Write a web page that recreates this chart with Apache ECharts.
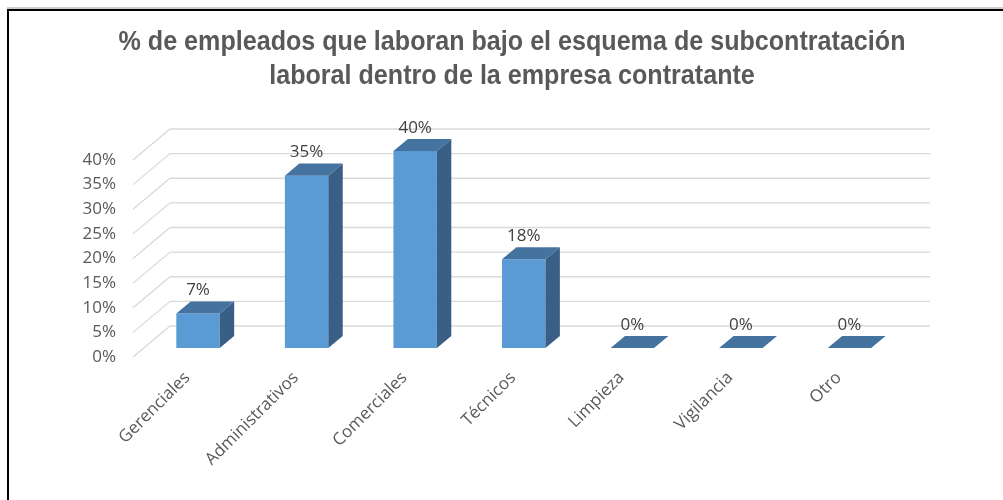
<!DOCTYPE html>
<html>
<head>
<meta charset="utf-8">
<script src="https://cdn.jsdelivr.net/npm/echarts@6/dist/echarts.min.js"></script>
<style>
  html, body { margin: 0; padding: 0; background: #fff; }
  #chart { width: 1003px; height: 500px; }
</style>
</head>
<body>
<div id="chart"></div>
<script>
// Categories and percentages
const categories = ['Gerenciales', 'Administrativos', 'Comerciales', 'Técnicos', 'Limpieza', 'Vigilancia', 'Otro'];
const percentages = [7, 35, 40, 18, 0, 0, 0];
const yTicks = [0, 5, 10, 15, 20, 25, 30, 35, 40];

const titleLines = [
  '% de empleados que laboran bajo el esquema de subcontratación',
  'laboral dentro de la empresa contratante'
];

// 3D look: floor depth vector and where the columns sit inside that depth
const DEPTH = [37, -31];
const COL_FRONT = 0.29;
const COL_BACK = 0.68;
const COL_WIDTH = 0.40;   // share of the category band
const FACE_FRONT = '#5B9BD5';
const FACE_TOP = '#4573A0';
const FACE_SIDE = '#395F86';
const LABEL_FONT = '"Open Sans", "Noto Sans", sans-serif';
const TITLE_FONT = '"Liberation Sans", Arial, sans-serif';

const chart = echarts.init(document.getElementById('chart'));

function renderWall(params, api) {
  const cs = params.coordSys;
  const y = api.coord([0, api.value(1)])[1];
  const x0 = cs.x, x1 = cs.x + cs.width;
  const lineStyle = { stroke: '#D9D9D9', lineWidth: 1.3 };
  return {
    type: 'group',
    children: [
      { type: 'line', shape: { x1: x0, y1: y, x2: x0 + DEPTH[0], y2: y + DEPTH[1] }, style: lineStyle },
      { type: 'line', shape: { x1: x0 + DEPTH[0], y1: y + DEPTH[1], x2: x1 + DEPTH[0], y2: y + DEPTH[1] }, style: lineStyle }
    ]
  };
}

function renderColumn(params, api) {
  const idx = api.value(0);
  const val = api.value(1);
  const top = api.coord([idx, val]);
  const base = api.coord([idx, 0]);
  const band = api.size([1, 0])[0];
  const w = band * COL_WIDTH;
  const ox = DEPTH[0] * COL_FRONT, oy = DEPTH[1] * COL_FRONT;
  const dx = DEPTH[0] * (COL_BACK - COL_FRONT), dy = DEPTH[1] * (COL_BACK - COL_FRONT);
  const xl = base[0] + ox - w / 2;
  const xr = base[0] + ox + w / 2;
  const yb = base[1] + oy;
  const yt = top[1] + oy;
  const children = [];
  if (val > 0) {
    children.push({
      type: 'rect',
      shape: { x: xl, y: yt, width: w, height: yb - yt },
      style: { fill: FACE_FRONT }
    });
    children.push({
      type: 'polygon',
      shape: { points: [[xr, yt], [xr + dx, yt + dy], [xr + dx, yb + dy], [xr, yb]] },
      style: { fill: FACE_SIDE }
    });
  }
  children.push({
    type: 'polygon',
    shape: { points: [[xl, yt], [xr, yt], [xr + dx, yt + dy], [xl + dx, yt + dy]] },
    style: { fill: FACE_TOP }
  });
  children.push({
    type: 'text',
    style: {
      text: val + '%',
      x: (xl + xr) / 2,
      y: yt + dy - 11,
      align: 'center',
      verticalAlign: 'middle',
      fill: '#404040',
      fontSize: 17,
      fontFamily: LABEL_FONT
    }
  });
  return { type: 'group', children: children };
}

// Two-line bold title, slightly condensed
const titleGraphics = titleLines.map((line, i) => ({
  type: 'text',
  x: 512,
  y: 43 + i * 34,
  scaleX: 0.93,
  silent: true,
  style: {
    text: line,
    align: 'center',
    verticalAlign: 'middle',
    fill: '#595959',
    fontFamily: TITLE_FONT,
    fontWeight: 'bold',
    fontSize: 27
  }
}));

chart.setOption({
  animation: false,
  backgroundColor: '#fff',
  grid: { left: 133, top: 160, width: 760, height: 197, containLabel: false },
  xAxis: {
    type: 'category',
    data: categories,
    axisLine: { show: false },
    axisTick: { show: false },
    axisLabel: {
      rotate: 45,
      margin: 18,
      interval: 0,
      color: '#595959',
      fontSize: 17,
      fontFamily: LABEL_FONT
    },
    splitLine: { show: false }
  },
  yAxis: {
    type: 'value',
    min: 0,
    max: 40,
    interval: 5,
    axisLine: { show: false },
    axisTick: { show: false },
    splitLine: { show: false },
    axisLabel: {
      margin: 17,
      formatter: '{value}%',
      color: '#595959',
      fontSize: 17,
      fontFamily: LABEL_FONT
    }
  },
  series: [
    {
      type: 'custom',
      renderItem: renderWall,
      data: yTicks.map(v => [0, v]),
      encode: { x: 0, y: 1 },
      silent: true,
      z: 1
    },
    {
      type: 'custom',
      renderItem: renderColumn,
      data: percentages.map((v, i) => [i, v]),
      encode: { x: 0, y: 1 },
      z: 2
    }
  ],
  graphic: titleGraphics.concat([
    { type: 'line', shape: { x1: 7, y1: 8, x2: 1003, y2: 8 }, style: { stroke: '#9a9a9a', lineWidth: 1 }, silent: true },
    { type: 'rect', shape: { x: 8, y: 10, width: 1100, height: 600 }, style: { fill: 'none', stroke: '#000', lineWidth: 2 }, silent: true }
  ])
});
</script>
</body>
</html>
